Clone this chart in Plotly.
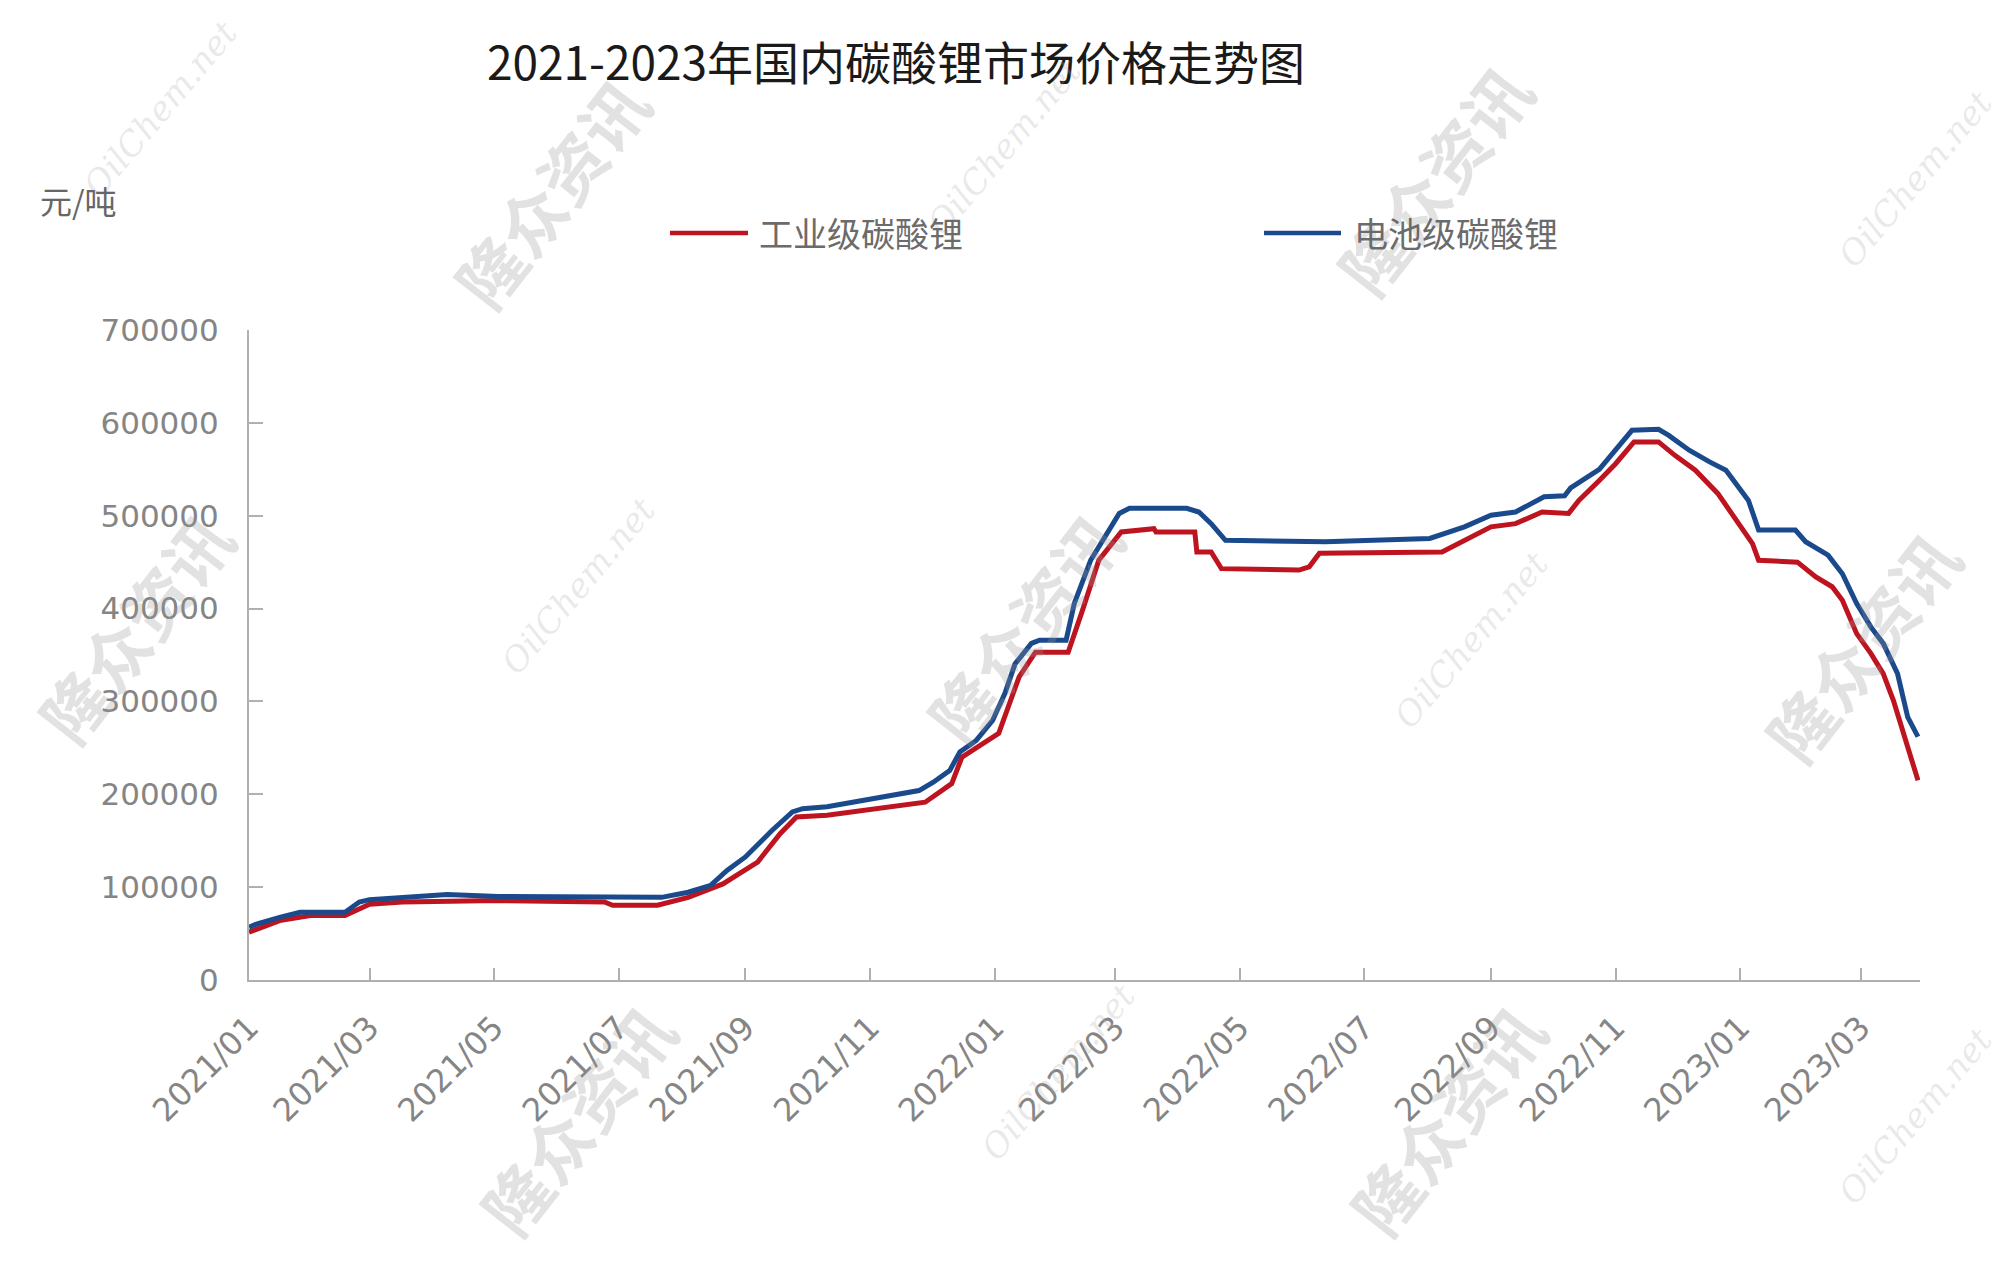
import plotly.graph_objects as go

# ---------------- data ----------------
title_text = "2021-2023年国内碳酸锂市场价格走势图"
unit_text = "元/吨"
series_names = ["工业级碳酸锂", "电池级碳酸锂"]

ind_dates = ["2021-01-01", "2021-01-16", "2021-01-31", "2021-02-17", "2021-03-01", "2021-03-17",
             "2021-05-03", "2021-06-24", "2021-06-28", "2021-07-20", "2021-08-04", "2021-08-21",
             "2021-08-29", "2021-09-07", "2021-09-18", "2021-09-26", "2021-10-11", "2021-11-28",
             "2021-12-11", "2021-12-16", "2022-01-03", "2022-01-13", "2022-01-21", "2022-02-06",
             "2022-02-13", "2022-02-21", "2022-03-04", "2022-03-20", "2022-03-21", "2022-04-09",
             "2022-04-10", "2022-04-17", "2022-04-22", "2022-05-30", "2022-06-04", "2022-06-09",
             "2022-08-08", "2022-08-19", "2022-09-01", "2022-09-13", "2022-09-26", "2022-10-09",
             "2022-10-14", "2022-10-24", "2022-11-01", "2022-11-10", "2022-11-22", "2022-11-30",
             "2022-12-10", "2022-12-21", "2022-12-30", "2023-01-07", "2023-01-10", "2023-01-29",
             "2023-02-07", "2023-02-15", "2023-02-20", "2023-02-27", "2023-03-06", "2023-03-12",
             "2023-03-17", "2023-03-22", "2023-03-26", "2023-03-29"]
ind_prices = [51500, 64000, 69500, 69500, 81500, 84000,
              85500, 84000, 80500, 80500, 89000, 103500,
              114500, 127000, 157500, 175500, 177500, 191500,
              211500, 240000, 265500, 326500, 353000, 353000,
              398000, 452000, 482500, 486000, 482500, 482500,
              461000, 461000, 443000, 441500, 445000, 459500,
              461000, 473500, 488000, 491500, 504000, 502500,
              516500, 538000, 556000, 579500, 579500, 565000,
              549000, 524000, 495000, 470000, 452000, 450000,
              434000, 423500, 409000, 373000, 351500, 330000,
              301000, 265500, 240000, 215000]

bat_dates = ["2021-01-01", "2021-01-05", "2021-01-16", "2021-01-26", "2021-02-17", "2021-02-24",
             "2021-03-01", "2021-03-17", "2021-04-08", "2021-05-03", "2021-06-28", "2021-07-22",
             "2021-08-04", "2021-08-15", "2021-08-23", "2021-09-01", "2021-09-14", "2021-09-24",
             "2021-09-29", "2021-10-11", "2021-11-25", "2021-12-02", "2021-12-10", "2021-12-15",
             "2021-12-23", "2021-12-31", "2022-01-06", "2022-01-11", "2022-01-19", "2022-01-23",
             "2022-02-05", "2022-02-09", "2022-02-17", "2022-02-24", "2022-03-03", "2022-03-08",
             "2022-04-05", "2022-04-11", "2022-04-17", "2022-04-24", "2022-06-12", "2022-08-02",
             "2022-08-19", "2022-09-01", "2022-09-13", "2022-09-27", "2022-10-07", "2022-10-10",
             "2022-10-24", "2022-11-09", "2022-11-22", "2022-11-27", "2022-12-07", "2022-12-17",
             "2022-12-25", "2023-01-05", "2023-01-10", "2023-01-28", "2023-02-02", "2023-02-13",
             "2023-02-20", "2023-02-27", "2023-03-06", "2023-03-12", "2023-03-19", "2023-03-24",
             "2023-03-29"]
bat_prices = [57000, 60500, 67500, 73000, 73000, 84000,
              86500, 89000, 92000, 90000, 89000, 89000,
              94500, 102000, 118000, 132500, 161000, 181000,
              184500, 186500, 204000, 213000, 225500, 245500,
              258000, 279500, 308500, 340500, 362500, 366000,
              366000, 405500, 452000, 477000, 502500, 508000,
              508000, 504000, 491500, 473500, 472000, 475500,
              488000, 500500, 504000, 520500, 521500, 530000,
              550000, 592000, 593000, 586500, 570500, 558000,
              549000, 516500, 484500, 484500, 472000, 457500,
              437500, 405500, 380000, 362500, 330000, 283000,
              262000]

y_ticks = [0, 100000, 200000, 300000, 400000, 500000, 600000, 700000]
x_range = ["2021-01-01", "2023-03-30"]

watermark_cn = "隆众资讯"
watermark_en = "OilChem.net"

# ---------------- style / layout ----------------
W, H = 2006, 1280
PL, PR, PT, PB = 249, 1920, 330, 980
RED = "#BE1420"
BLUE = "#1B4A8C"
AXIS = "#b0b0b0"
CJK = "Noto Sans CJK SC"


def paper(xp, yp):
    return (xp - PL) / (PR - PL), (PB - yp) / (PB - PT)


fig = go.Figure()
fig.add_trace(go.Scatter(x=ind_dates, y=ind_prices, mode="lines", name=series_names[0],
                         line=dict(color=RED, width=5), showlegend=False))
fig.add_trace(go.Scatter(x=bat_dates, y=bat_prices, mode="lines", name=series_names[1],
                         line=dict(color=BLUE, width=5), showlegend=False))

shapes = []
annotations = []

# watermarks
wm_cn_pos = [(550, 192), (1433, 179), (134, 627), (1023, 627), (1861, 646), (576, 1119), (1446, 1119)]
wm_en_pos = [(160, 109), (1004, 147), (1915, 179), (578, 586), (1471, 640), (1058, 1072), (1915, 1116)]
for (xp, yp) in wm_cn_pos:
    px, py = paper(xp, yp)
    annotations.append(dict(x=px, y=py, xref="paper", yref="paper", text="<b>" + watermark_cn + "</b>",
                            showarrow=False, textangle=-52, xanchor="center", yanchor="middle",
                            font=dict(family=CJK, size=66, color="rgba(150,150,150,0.28)")))
for (xp, yp) in wm_en_pos:
    px, py = paper(xp, yp)
    annotations.append(dict(x=px, y=py, xref="paper", yref="paper", text=watermark_en,
                            showarrow=False, textangle=-50, xanchor="center", yanchor="middle",
                            font=dict(family="DejaVu Serif", size=34, style="italic",
                                      color="rgba(170,170,170,0.25)")))

# unit label
ux, uy = paper(38, 200)
annotations.append(dict(x=ux, y=uy, xref="paper", yref="paper", text=unit_text, showarrow=False,
                        xanchor="left", yanchor="middle", font=dict(family=CJK, size=32, color="#666666")))

# legend (drawn manually to match the long legend lines)
legend_items = [(series_names[0], RED, 670, 748, 757), (series_names[1], BLUE, 1264, 1341, 1352)]
for name, col, x0, x1, xt in legend_items:
    a0, b0 = paper(x0, 233)
    a1, b1 = paper(x1, 233)
    shapes.append(dict(type="line", xref="paper", yref="paper", x0=a0, y0=b0, x1=a1, y1=b1,
                       line=dict(color=col, width=4.5)))
    tx, ty = paper(xt, 233)
    annotations.append(dict(x=tx, y=ty, xref="paper", yref="paper", text=name, showarrow=False,
                            xanchor="left", yanchor="middle",
                            font=dict(family=CJK, size=34, color="#6b6b6b")))

fig.update_layout(
    width=W, height=H,
    margin=dict(l=PL, r=W - PR, t=PT, b=H - PB, pad=0),
    paper_bgcolor="white", plot_bgcolor="white",
    title=dict(text=title_text, x=896 / W, xanchor="center", y=1 - 64 / H, yanchor="middle",
               xref="container", yref="container",
               font=dict(family=CJK, size=46, color="#1a1a1a")),
    shapes=shapes,
    annotations=annotations,
    showlegend=False,
)
fig.update_xaxes(type="date", range=x_range, tick0="2021-01-01", dtick="M2", tickformat="%Y/%m",
                 tickangle=-45, showgrid=False, zeroline=False, showline=True, linecolor=AXIS,
                 linewidth=2, ticks="inside", ticklen=12, tickwidth=2, tickcolor=AXIS,
                 ticklabelstandoff=14,
                 tickfont=dict(family="DejaVu Sans", size=32, color="#858585"))
fig.update_yaxes(range=[0, 700000], tickvals=y_ticks, tickformat="d", showgrid=False, zeroline=False,
                 showline=True, linecolor=AXIS, linewidth=2, ticks="inside", ticklen=14, tickwidth=2,
                 tickcolor=AXIS, ticklabelstandoff=22,
                 tickfont=dict(family="DejaVu Sans", size=31, color="#858585"))

fig.write_html("out.html", config={"displayModeBar": False},
               post_script="document.body.style.margin='0';document.body.style.padding='0';")
